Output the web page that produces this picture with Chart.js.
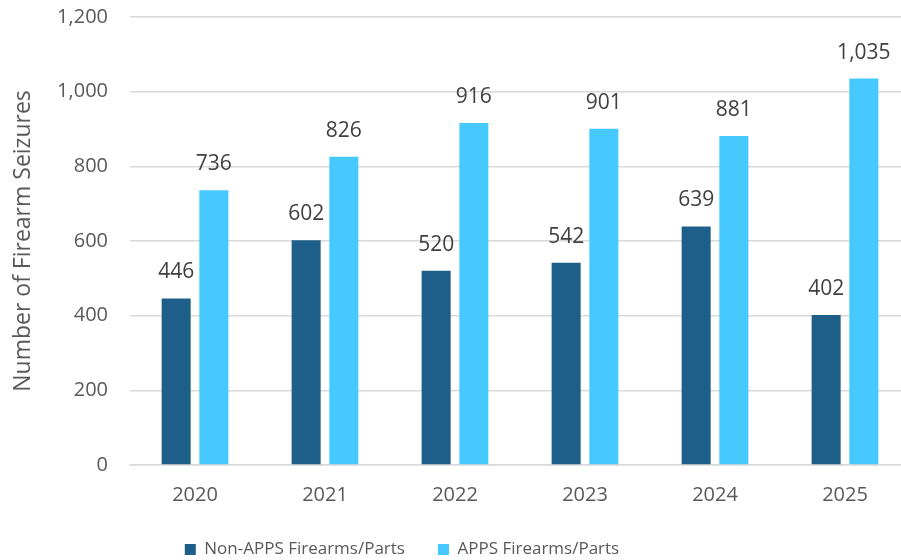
<!DOCTYPE html>
<html>
<head>
<meta charset="utf-8">
<script src="https://cdn.jsdelivr.net/npm/chart.js@4"></script>
<style>
  html, body { margin: 0; padding: 0; background: #fff; overflow: hidden; }
  #wrap { width: 910px; height: 568px; }
</style>
</head>
<body>
<div id="wrap"><canvas id="seizureChart"></canvas></div>
<script>
const years = ['2020', '2021', '2022', '2023', '2024', '2025'];
const nonAppsSeizures = [446, 602, 520, 542, 639, 402];
const appsSeizures = [736, 826, 916, 901, 881, 1035];
const yTicks = [0, 200, 400, 600, 800, 1000, 1200];

const fontFamily = "'Open Sans', 'Liberation Sans', sans-serif";

// value labels above each bar
const barLabels = {
  id: 'barLabels',
  afterDatasetsDraw(chart) {
    const ctx = chart.ctx;
    ctx.save();
    ctx.font = '21px ' + fontFamily;
    ctx.fillStyle = '#404040';
    ctx.textAlign = 'center';
    ctx.textBaseline = 'middle';
    chart.data.datasets.forEach((ds, i) => {
      chart.getDatasetMeta(i).data.forEach((bar, j) => {
        ctx.fillText(ds.data[j].toLocaleString('en-US'), bar.x, bar.y - 26);
      });
    });
    ctx.restore();
  }
};

// move the legend left, under the bars
const legendShift = {
  id: 'legendShift',
  afterLayout(chart) {
    chart.legend.left -= 53;
    chart.legend.right -= 53;
  }
};

new Chart(document.getElementById('seizureChart').getContext('2d'), {
  type: 'bar',
  data: {
    labels: years,
    datasets: [{
      label: 'Non-APPS Firearms/Parts',
      data: nonAppsSeizures,
      backgroundColor: '#1D5F88',
      categoryPercentage: 0.58,
      barPercentage: 0.77
    }, {
      label: 'APPS Firearms/Parts',
      data: appsSeizures,
      backgroundColor: '#46C9FF',
      categoryPercentage: 0.58,
      barPercentage: 0.77
    }]
  },
  options: {
    responsive: true,
    maintainAspectRatio: false,
    animation: false,
    layout: { padding: { top: 17, right: 0, bottom: 0, left: 0 } },
    plugins: {
      legend: {
        position: 'bottom',
        labels: {
          boxWidth: 11,
          boxHeight: 11,
          padding: 33,
          color: '#595959',
          font: { family: fontFamily, size: 17 }
        }
      },
      tooltip: { enabled: false }
    },
    scales: {
      x: {
        afterFit(axis) {
          axis.height = 43;
        },
        grid: { display: false, drawTicks: false },
        border: { color: '#d9d9d9', width: 1.5 },
        ticks: { color: '#595959', padding: 18, font: { family: fontFamily, size: 20 } }
      },
      y: {
        min: 0,
        max: 1200,
        afterBuildTicks(axis) {
          axis.ticks = yTicks.map(v => ({ value: v }));
        },
        afterFit(axis) {
          // fixed axis width, and no extra room above the top tick
          axis.width = 130;
          axis.paddingTop = 0;
          axis.paddingBottom = 0;
        },
        grid: { color: '#d9d9d9', lineWidth: 1.5, drawTicks: false },
        border: { display: false },
        ticks: {
          color: '#595959',
          padding: 22,
          font: { family: fontFamily, size: 20 },
          callback: v => v.toLocaleString('en-US')
        },
        title: {
          display: true,
          text: 'Number of Firearm Seizures',
          color: '#595959',
          font: { family: fontFamily, size: 23 },
          padding: { top: 10, bottom: 0 }
        }
      }
    }
  },
  plugins: [barLabels, legendShift]
});
</script>
</body>
</html>
